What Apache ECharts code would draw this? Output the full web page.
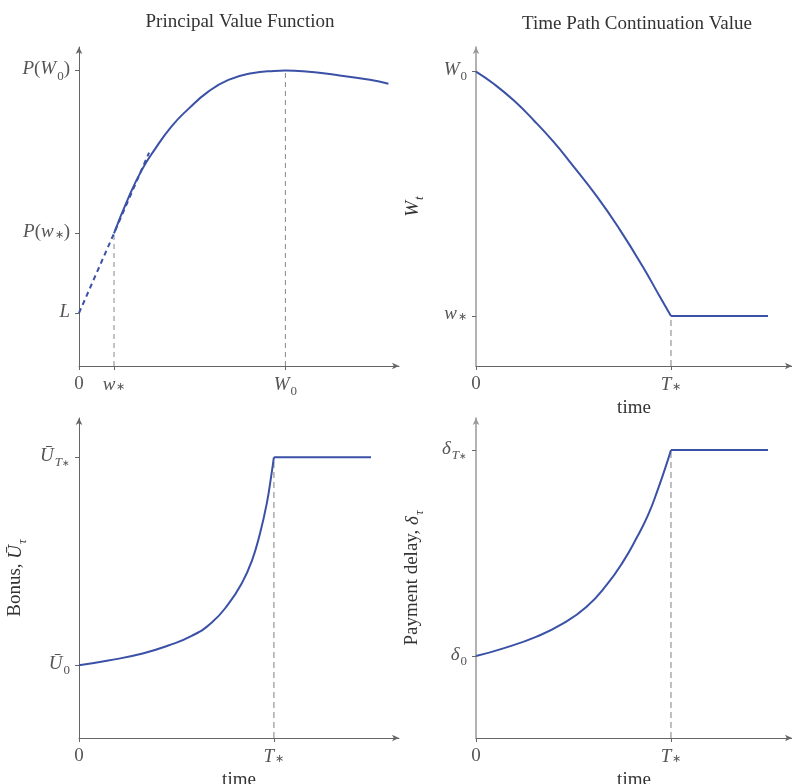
<!DOCTYPE html>
<html>
<head>
<meta charset="utf-8">
<script src="https://cdn.jsdelivr.net/npm/echarts@6/dist/echarts.min.js"></script>
<style>
  html, body { margin: 0; padding: 0; background: #fff; }
  #chart { width: 792px; height: 784px; }
</style>
</head>
<body>
<div id="chart"></div>
<script>
// panel 1: principal value function (x = promised value, y = principal value)
var p1CurveX = [1.094, 1.54, 1.96, 2.375, 2.9, 3.42, 4.04, 4.67, 5.4, 6.1, 6.45, 7.0, 8.05, 9.09, 9.67];
var p1CurveY = [4.16, 5.26, 6.14, 6.80, 7.52, 8.06, 8.60, 8.97, 9.18, 9.25, 9.26, 9.24, 9.12, 8.97, 8.85];
var p1TangentX = [0, 1.094, 2.19];
var p1TangentY = [1.66, 4.16, 6.69];
var p1XTicks = [0, 1.094, 6.45];
var p1XLabels = ['{r|0}', '{i|w}{a|∗}', '{i|W}{s|0}'];
var p1YTicks = [1.66, 4.16, 9.26];
var p1YLabels = ['{i|L}', '{i|P}{r|(}{i|w}{a|∗}{r|)}', '{i|P}{r|(}{i|W}{s|0}{r|)}'];

// panel 2: time path of continuation value
var p2CurveX = [0, 0.57, 1.20, 1.84, 2.47, 2.97, 3.83, 4.56, 5.28, 5.82, 6.17];
var p2CurveY = [9.23, 8.84, 8.32, 7.69, 7.01, 6.40, 5.31, 4.26, 3.11, 2.17, 1.57];
var p2FlatX = [6.17, 9.24];
var p2XTicks = [0, 6.17];
var p2XLabels = ['{r|0}', '{i|T}{a|∗}'];
var p2YTicks = [1.57, 9.23];
var p2YLabels = ['{i|w}{a|∗}', '{i|W}{s|0}'];

// panel 3: bonus
var p3CurveX = [0, 0.916, 1.99, 2.79, 3.52, 4.15, 4.67, 5.09, 5.40, 5.66, 5.87, 6.02, 6.09];
var p3CurveY = [2.27, 2.42, 2.64, 2.89, 3.19, 3.61, 4.19, 4.84, 5.53, 6.41, 7.34, 8.28, 8.77];
var p3FlatX = [6.09, 9.125];
var p3XTicks = [0, 6.09];
var p3XLabels = ['{r|0}', '{i|T}{a|∗}'];
var p3YTicks = [2.27, 8.77];
var p3YLabels = ['{i|Ū}{s|0}', '{i|Ū}{si|T}{aa|∗}'];

// panel 4: payment delay
var p4CurveX = [0, 0.865, 1.92, 2.76, 3.50, 4.14, 4.66, 5.08, 5.45, 5.77, 6.04, 6.17];
var p4CurveY = [2.56, 2.80, 3.17, 3.58, 4.10, 4.79, 5.52, 6.25, 6.98, 7.81, 8.59, 9.0];
var p4FlatX = [6.17, 9.24];
var p4XTicks = [0, 6.17];
var p4XLabels = ['{r|0}', '{i|T}{a|∗}'];
var p4YTicks = [2.56, 9.0];
var p4YLabels = ['{i|δ}{s|0}', '{i|δ}{si|T}{aa|∗}'];

var SERIF = 'Liberation Serif';
var BLUE = '#3a51a6';
var AXIS = '#666';
var LABEL = '#555';
var DARK = '#333';

function richStyles(color) {
  var base = {fontFamily: SERIF, verticalAlign: 'top', color: color};
  function st(extra) { return Object.assign({}, base, extra); }
  return {
    i: st({fontStyle: 'italic', fontSize: 19, lineHeight: 22}),
    r: st({fontSize: 19, lineHeight: 22}),
    s: st({fontSize: 13, lineHeight: 13, padding: [10, 0, 0, 1]}),
    si: st({fontStyle: 'italic', fontSize: 13, lineHeight: 13, padding: [10, 0, 0, 1]}),
    a: st({fontSize: 11, lineHeight: 11, padding: [7, 0, 0, 1]}),
    aa: st({fontSize: 9, lineHeight: 9, padding: [13, 0, 0, 0]})
  };
}

function zip(xs, ys) {
  return xs.map(function (x, i) { return [x, ys[i]]; });
}

function pick(ticks, labels) {
  return function (v) {
    for (var i = 0; i < ticks.length; i++) {
      if (Math.abs(ticks[i] - v) < 1e-6) return labels[i];
    }
    return '';
  };
}

function makeAxis(idx, ticks, labels, name, isX, lineColor, lineWidth) {
  return {
    type: 'value',
    gridIndex: idx,
    min: 0,
    max: 10,
    name: name,
    nameLocation: 'middle',
    nameGap: isX ? 33 : 51,
    nameTextStyle: {fontFamily: SERIF, fontSize: 19, color: DARK, rich: richStyles(DARK)},
    splitLine: {show: false},
    axisLine: {
      show: true,
      lineStyle: {color: lineColor || AXIS, width: lineWidth || 1},
      symbol: ['none', 'arrow'], symbolSize: [5, 7]
    },
    axisTick: {show: true, customValues: ticks, length: 4, lineStyle: {color: AXIS}},
    axisLabel: {
      show: true,
      customValues: ticks,
      margin: 9,
      formatter: pick(ticks, labels),
      rich: richStyles(LABEL)
    }
  };
}

function guide(idx, x, yTop, color, width, dash) {
  return {
    type: 'line', xAxisIndex: idx, yAxisIndex: idx,
    data: [[x, 0], [x, yTop]],
    symbol: 'none', silent: true,
    lineStyle: {color: color, width: width, type: dash}
  };
}

function curve(idx, pts, smooth, dash) {
  return {
    type: 'line', xAxisIndex: idx, yAxisIndex: idx,
    data: pts, symbol: 'none', smooth: smooth, silent: true,
    lineStyle: {color: BLUE, width: 2, type: dash || 'solid'}
  };
}

var titleStyle = {fontFamily: SERIF, fontSize: 19, fontWeight: 'normal', color: DARK};

var option = {
  animation: false,
  backgroundColor: '#fff',
  title: [
    {text: 'Principal Value Function', left: 235, top: 8, textAlign: 'center', textStyle: titleStyle},
    {text: 'Time Path Continuation Value', left: 632, top: 10, textAlign: 'center', textStyle: titleStyle}
  ],
  grid: [
    {left: 79, top: 47, width: 320, height: 319, outerBoundsMode: 'none'},
    {left: 476, top: 47, width: 316, height: 319, outerBoundsMode: 'none'},
    {left: 79, top: 418, width: 320, height: 320, outerBoundsMode: 'none'},
    {left: 476, top: 418, width: 316, height: 320, outerBoundsMode: 'none'}
  ],
  xAxis: [
    makeAxis(0, p1XTicks, p1XLabels, '', true),
    makeAxis(1, p2XTicks, p2XLabels, 'time', true),
    makeAxis(2, p3XTicks, p3XLabels, 'time', true),
    makeAxis(3, p4XTicks, p4XLabels, 'time', true)
  ],
  yAxis: [
    makeAxis(0, p1YTicks, p1YLabels, '', false),
    makeAxis(1, p2YTicks, p2YLabels, '{i|W}{si|t}', false, '#999', 1.5),
    makeAxis(2, p3YTicks, p3YLabels, '{r|Bonus, }{i|Ū}{si|τ}', false),
    makeAxis(3, p4YTicks, p4YLabels, '{r|Payment delay, }{i|δ}{si|τ}', false, '#999', 1.5)
  ],
  series: [
    guide(0, p1XTicks[1], p1YTicks[1], '#888', 1, [5, 4]),
    guide(0, p1XTicks[2], p1YTicks[2], '#888', 1, [5, 4]),
    curve(0, zip(p1TangentX, p1TangentY), false, [5, 4]),
    curve(0, zip(p1CurveX, p1CurveY), 0.5),

    guide(1, p2XTicks[1], p2YTicks[0], '#aaa', 1.5, [6, 4]),
    curve(1, zip(p2CurveX, p2CurveY), 0.5),
    curve(1, zip(p2FlatX, [p2YTicks[0], p2YTicks[0]]), false),

    guide(2, p3XTicks[1], p3YTicks[1], '#aaa', 1.5, [6, 4]),
    curve(2, zip(p3CurveX, p3CurveY), 0.5),
    curve(2, zip(p3FlatX, [p3YTicks[1], p3YTicks[1]]), false),

    guide(3, p4XTicks[1], p4YTicks[1], '#aaa', 1.5, [6, 4]),
    curve(3, zip(p4CurveX, p4CurveY), 0.5),
    curve(3, zip(p4FlatX, [p4YTicks[1], p4YTicks[1]]), false)
  ]
};

var chart = echarts.init(document.getElementById('chart'));
chart.setOption(option);
</script>
</body>
</html>
